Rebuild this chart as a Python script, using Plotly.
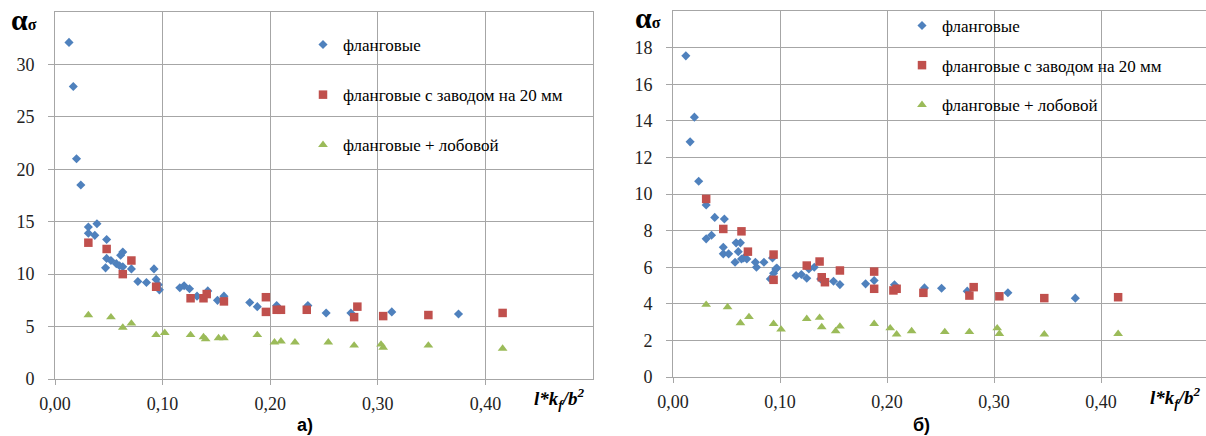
import plotly.graph_objects as go

# ---------------- data ----------------
series_names = ["фланговые", "фланговые с заводом на 20 мм", "фланговые + лобовой"]

# chart а)
a_flank_x = [0.013, 0.017, 0.020, 0.024, 0.031, 0.031, 0.037, 0.039, 0.048, 0.047, 0.048, 0.052,
             0.057, 0.060, 0.061, 0.063, 0.063, 0.071, 0.077, 0.085, 0.092, 0.094, 0.096, 0.097,
             0.116, 0.120, 0.125, 0.132, 0.142, 0.151, 0.157, 0.181, 0.188, 0.206, 0.235, 0.252,
             0.275, 0.313, 0.375]
a_flank_y = [32.1, 27.9, 21.0, 18.5, 14.5, 13.9, 13.7, 14.8, 13.3, 10.6, 11.5, 11.3,
             11.0, 10.8, 11.8, 12.1, 10.7, 10.5, 9.3, 9.2, 10.5, 9.5, 9.0, 8.5,
             8.7, 8.9, 8.6, 7.9, 8.4, 7.5, 7.9, 7.3, 6.9, 7.0, 7.0, 6.3,
             6.3, 6.4, 6.2]
a_weld20_x = [0.031, 0.048, 0.063, 0.071, 0.094, 0.126, 0.138, 0.141, 0.157, 0.196, 0.196,
              0.206, 0.210, 0.234, 0.278, 0.281, 0.305, 0.347, 0.416]
a_weld20_y = [13.0, 12.4, 10.0, 11.3, 8.8, 7.7, 7.7, 8.1, 7.4, 7.8, 6.4,
              6.6, 6.6, 6.6, 5.9, 6.9, 6.0, 6.1, 6.3]
a_front_x = [0.031, 0.052, 0.063, 0.071, 0.094, 0.102, 0.126, 0.138, 0.140, 0.152, 0.157,
             0.188, 0.204, 0.210, 0.223, 0.254, 0.278, 0.303, 0.305, 0.347, 0.416]
a_front_y = [6.1, 5.9, 4.9, 5.3, 4.2, 4.4, 4.2, 4.0, 3.8, 3.9, 3.9,
             4.2, 3.5, 3.6, 3.5, 3.5, 3.2, 3.3, 3.0, 3.2, 2.9]

# chart б)
b_flank_x = [0.012, 0.016, 0.020, 0.024, 0.031, 0.031, 0.036, 0.039, 0.048, 0.047, 0.047, 0.052,
             0.059, 0.063, 0.058, 0.061, 0.064, 0.066, 0.069, 0.077, 0.078, 0.085, 0.091, 0.093,
             0.094, 0.096, 0.097, 0.115, 0.120, 0.125, 0.127, 0.132, 0.138, 0.150, 0.156, 0.180,
             0.188, 0.207, 0.235, 0.251, 0.275, 0.313, 0.376]
b_flank_y = [17.55, 12.85, 14.2, 10.7, 9.4, 7.55, 7.75, 8.72, 8.63, 7.09, 6.73, 6.73,
             7.33, 7.33, 6.27, 6.85, 6.45, 6.5, 6.45, 6.27, 6.0, 6.27, 5.36, 6.5,
             5.67, 5.9, 5.95, 5.55, 5.6, 5.4, 5.9, 6.0, 5.36, 5.23, 5.05, 5.09,
             5.27, 5.04, 4.87, 4.85, 4.69, 4.6, 4.31]
b_weld20_x = [0.031, 0.047, 0.064, 0.070, 0.094, 0.094, 0.125, 0.137, 0.139, 0.142, 0.156,
              0.188, 0.188, 0.206, 0.209, 0.234, 0.277, 0.281, 0.305, 0.347, 0.416]
b_weld20_y = [9.73, 8.09, 7.96, 6.85, 6.69, 5.31, 6.09, 6.31, 5.45, 5.18, 5.82,
              5.76, 4.82, 4.73, 4.82, 4.6, 4.45, 4.91, 4.41, 4.31, 4.36]
b_front_x = [0.031, 0.051, 0.063, 0.071, 0.094, 0.101, 0.125, 0.137, 0.139, 0.152, 0.156,
             0.188, 0.203, 0.209, 0.223, 0.254, 0.277, 0.303, 0.305, 0.347, 0.416]
b_front_y = [3.95, 3.82, 2.95, 3.28, 2.91, 2.6, 3.18, 3.24, 2.73, 2.51, 2.76,
             2.91, 2.67, 2.33, 2.51, 2.46, 2.46, 2.67, 2.36, 2.33, 2.36]

x_tickvals = [0.0, 0.1, 0.2, 0.3, 0.4]
x_ticktext = ["0,00", "0,10", "0,20", "0,30", "0,40"]
a_y_tickvals = [0, 5, 10, 15, 20, 25, 30]
a_y_ticktext = ["0", "5", "10", "15", "20", "25", "30"]
b_y_tickvals = [0, 2, 4, 6, 8, 10, 12, 14, 16, 18]
b_y_ticktext = ["0", "2", "4", "6", "8", "10", "12", "14", "16", "18"]

# ---------------- styling ----------------
W, H = 1206, 436
colors = ["#4F81BD", "#C0504D", "#9BBB59"]
symbols = ["diamond", "square", "triangle-up"]
sizes = [7, 8.5, 8.5]
grid = "#a6a6a6"
serif = "Liberation Serif"
sans = "Liberation Sans"

fig = go.Figure()

a_sets = [(a_flank_x, a_flank_y), (a_weld20_x, a_weld20_y), (a_front_x, a_front_y)]
b_sets = [(b_flank_x, b_flank_y), (b_weld20_x, b_weld20_y), (b_front_x, b_front_y)]

for i, (xs, ys) in enumerate(a_sets):
    fig.add_trace(go.Scatter(x=xs, y=ys, mode="markers", name=series_names[i],
                             marker=dict(color=colors[i], symbol=symbols[i], size=sizes[i]),
                             xaxis="x", yaxis="y", legend="legend", legendgroup="a%d" % i))
for i, (xs, ys) in enumerate(b_sets):
    fig.add_trace(go.Scatter(x=xs, y=ys, mode="markers", name=series_names[i],
                             marker=dict(color=colors[i], symbol=symbols[i], size=sizes[i]),
                             xaxis="x2", yaxis="y2", legend="legend2", legendgroup="b%d" % i))

def xaxis(domain, rng, anchor):
    return dict(domain=domain, range=rng, anchor=anchor, tickvals=x_tickvals, ticktext=x_ticktext,
                showgrid=True, gridcolor=grid, gridwidth=1, showline=True, linecolor=grid,
                mirror=True, ticks="outside", ticklen=5, tickcolor=grid, zeroline=False,
                automargin=False,
                tickfont=dict(family=serif, size=18, color="#222"), ticklabelstandoff=3)

def yaxis(domain, rng, anchor, tv, tt):
    return dict(domain=domain, range=rng, anchor=anchor, tickvals=tv, ticktext=tt,
                showgrid=True, gridcolor=grid, gridwidth=1, showline=True, linecolor=grid,
                mirror=True, ticks="outside", ticklen=6, tickcolor=grid, zeroline=False,
                automargin=False,
                tickfont=dict(family=serif, size=18, color="#222"), ticklabelstandoff=10)

fig.update_layout(
    template="none",
    width=W, height=H, autosize=False,
    margin=dict(l=0, r=0, t=0, b=0, pad=0, autoexpand=False),
    font=dict(family=serif, color="black"),
    paper_bgcolor="white", plot_bgcolor="white",
    xaxis=xaxis([55 / W, 593 / W], [0, 0.5], "y"),
    yaxis=yaxis([(H - 379) / H, (H - 12) / H], [0, 35], "x", a_y_tickvals, a_y_ticktext),
    xaxis2=xaxis([673 / W, 1.0], [0, (W - 673) / 1070], "y2"),
    yaxis2=yaxis([(H - 377) / H, (H - 11) / H], [0, 20], "x2", b_y_tickvals, b_y_ticktext),
    legend=dict(x=303 / W, y=(H - 27) / H, xanchor="left", yanchor="top",
                bgcolor="rgba(0,0,0,0)", font=dict(family=serif, size=17, color="black"),
                tracegroupgap=25, itemwidth=30),
    legend2=dict(x=902 / W, y=(H - 8) / H, xanchor="left", yanchor="top",
                 bgcolor="rgba(0,0,0,0)", font=dict(family=serif, size=17, color="black"),
                 tracegroupgap=14.5, itemwidth=30),
    showlegend=True,
)

ann_common = dict(xref="paper", yref="paper", showarrow=False, xanchor="center", yanchor="middle")
ytitle = "<b>α<span style='font-size:16px'>σ</span></b>"
xtitle = "<b><i>l*k<sub>f</sub>/b<sup>2</sup></i></b>"
fig.add_annotation(text=ytitle, x=24 / W, y=(H - 20) / H, font=dict(family=serif, size=30, color="black"), **ann_common)
fig.add_annotation(text=ytitle, x=648 / W, y=(H - 18) / H, font=dict(family=serif, size=30, color="black"), **ann_common)
fig.add_annotation(text=xtitle, x=559 / W, y=(H - 398) / H, font=dict(family=serif, size=19, color="black"), **ann_common)
fig.add_annotation(text=xtitle, x=1175 / W, y=(H - 397) / H, font=dict(family=serif, size=19, color="black"), **ann_common)
fig.add_annotation(text="<b>а)</b>", x=305 / W, y=(H - 425) / H,
                   font=dict(family=sans, size=18, color="black"), **ann_common)
fig.add_annotation(text="<b>б)</b>", x=921 / W, y=(H - 425) / H,
                   font=dict(family=sans, size=18, color="black"), **ann_common)

fig.write_html("out.html", config={"displayModeBar": False},
               post_script="document.body.style.margin='0';document.body.style.overflow='hidden';")
